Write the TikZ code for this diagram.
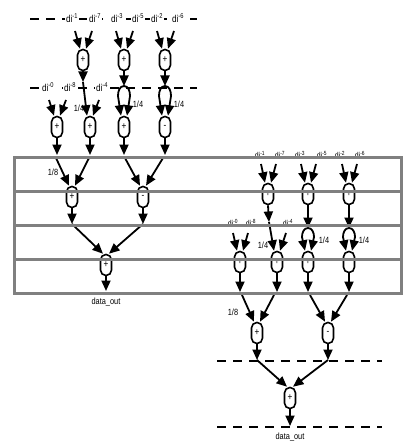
\documentclass[tikz,border=0pt]{standalone}
\usepackage{fontspec}
\newfontfamily\narrow[FakeStretch=0.82]{Liberation Sans}
\usetikzlibrary{arrows.meta}
\begin{document}
\begin{tikzpicture}[x=1pt,y=-1pt,
 adder/.style={draw, line width=1.6pt, rounded corners=5.4pt, minimum width=11pt, minimum height=21pt, inner sep=0pt, fill=white, font=\narrow\fontsize{10}{10}\selectfont},
 arr/.style={line width=1.8pt, -{Triangle[length=10.5pt,width=9pt]}},
 dline/.style={line width=1.8pt, dash pattern=on 9pt off 7pt},
 lab/.style={font=\narrow\fontsize{10}{10}\selectfont, inner sep=0.6pt, fill=white},
 slab/.style={font=\narrow\fontsize{8.5}{8.5}\selectfont, inner sep=0.5pt},
 flab/.style={font=\narrow\fontsize{9}{9}\selectfont, inner sep=0.5pt},
 grayline/.style={draw=gray, line width=3pt}]
\useasboundingbox (0,0) rectangle (403,441);
% ---------------- top-left pipeline ----------------
\draw[dline] (30,19) -- (197,19);
\node[lab] (t1) at (72,18) {di\textsuperscript{-1}};
\node[lab] (t7) at (95,18) {di\textsuperscript{-7}};
\node[lab] (t3) at (117,18) {di\textsuperscript{-3}};
\node[lab] (t5) at (138,18) {di\textsuperscript{-5}};
\node[lab] (t2) at (157,18) {di\textsuperscript{-2}};
\node[lab] (t6) at (178,18) {di\textsuperscript{-6}};
\node[adder] (A1) at (83,60) {+};
\node[adder] (A2) at (124,60) {+};
\node[adder] (A3) at (165,60) {+};
\coordinate (a1l) at (75,31); \coordinate (a1r) at (92,31);
\coordinate (a2l) at (116,31); \coordinate (a2r) at (133,31);
\coordinate (a3l) at (157,31); \coordinate (a3r) at (174,31);
\draw[arr] (a1l) -- ([xshift=-3pt]A1.north);
\draw[arr] (a1r) -- ([xshift=3pt]A1.north);
\draw[arr] (a2l) -- ([xshift=-3pt]A2.north);
\draw[arr] (a2r) -- ([xshift=3pt]A2.north);
\draw[arr] (a3l) -- ([xshift=-3pt]A3.north);
\draw[arr] (a3r) -- ([xshift=3pt]A3.north);
\draw[dline] (30,88) -- (197,88);
\node[lab] (t0) at (48,87) {di\textsuperscript{-0}};
\node[lab] (t8) at (70,87) {di\textsuperscript{-8}};
\node[lab] (t4) at (102,87) {di\textsuperscript{-4}};
\node[adder] (B1) at (57,127) {+};
\node[adder] (B2) at (90,127) {+};
\node[adder] (B3) at (124,127) {+};
\node[adder] (B4) at (165,127) {-};
\coordinate (a1o) at (83,82);
\coordinate (J2) at (124,86);
\coordinate (J3) at (165,86);
\draw[arr] (A1.south) -- (a1o);
\draw[arr] (A2.south) -- (J2);
\draw[arr] (A3.south) -- (J3);
\draw[arr] (a1o) -- ([xshift=-3pt]B2.north);
\draw[arr] (J2) to[out=180,in=90] (118,96) -- ([xshift=-3pt]B3.north);
\draw[arr] (J2) to[out=0,in=90] (130,96) -- ([xshift=3pt]B3.north);
\draw[arr] (J3) to[out=180,in=90] (159,96) -- ([xshift=-3pt]B4.north);
\draw[arr] (J3) to[out=0,in=90] (171,96) -- ([xshift=3pt]B4.north);
\coordinate (b1l) at (49,100); \coordinate (b1r) at (66,100);
\coordinate (b2r) at (99,100);
\draw[arr] (b1l) -- ([xshift=-3pt]B1.north);
\draw[arr] (b1r) -- ([xshift=3pt]B1.north);
\draw[arr] (b2r) -- ([xshift=3pt]B2.north);
\node[flab] (q1) at (79,108) {1/4};
\node[flab] (q2) at (138,104) {1/4};
\node[flab] (q3) at (179,104) {1/4};
\coordinate (b1o) at (57,155); \coordinate (b2o) at (90,155);
\coordinate (b3o) at (124,155); \coordinate (b4o) at (165,155);
\draw[arr] (B1.south) -- (b1o);
\draw[arr] (B2.south) -- (b2o);
\draw[arr] (B3.south) -- (b3o);
\draw[arr] (B4.south) -- (b4o);
% ---------------- box, left ----------------
\node[adder] (C1) at (72,197) {+};
\node[adder] (C2) at (143,197) {-};
\coordinate (c1l) at (56,158); \coordinate (c1r) at (89,158);
\coordinate (c2l) at (125,158); \coordinate (c2r) at (163,158);
\draw[arr] (c1l) -- ([xshift=-3pt]C1.north);
\draw[arr] (c1r) -- ([xshift=3pt]C1.north);
\draw[arr] (c2l) -- ([xshift=-3pt]C2.north);
\draw[arr] (c2r) -- ([xshift=3pt]C2.north);
\node[flab] (e1) at (53,172) {1/8};
\coordinate (c1o) at (72,224); \coordinate (c2o) at (143,224);
\draw[arr] (C1.south) -- (c1o);
\draw[arr] (C2.south) -- (c2o);
\node[adder] (D) at (106,265) {+};
\draw[arr] (c1o) -- ([xshift=-3pt]D.north);
\draw[arr] (c2o) -- ([xshift=3pt]D.north);
\coordinate (do) at (106,291);
\draw[arr] (D.south) -- (do);
\node[flab] (out1) at (106,302) {data\_out};
% ---------------- box, right ----------------
\node[slab] (u1) at (260,155) {di\textsuperscript{-1}};
\node[slab] (u7) at (280,155) {di\textsuperscript{-7}};
\node[slab] (u3) at (300,155) {di\textsuperscript{-3}};
\node[slab] (u5) at (322,155) {di\textsuperscript{-5}};
\node[slab] (u2) at (340,155) {di\textsuperscript{-2}};
\node[slab] (u6) at (360,155) {di\textsuperscript{-6}};
\node[adder] (E1) at (268,194) {+};
\node[adder] (E2) at (308,194) {+};
\node[adder] (E3) at (349,194) {+};
\coordinate (e1l) at (261,164); \coordinate (e1r) at (276,164);
\coordinate (e2l) at (301,164); \coordinate (e2r) at (316,164);
\coordinate (e3l) at (342,164); \coordinate (e3r) at (357,164);
\draw[arr] (e1l) -- ([xshift=-3pt]E1.north);
\draw[arr] (e1r) -- ([xshift=3pt]E1.north);
\draw[arr] (e2l) -- ([xshift=-3pt]E2.north);
\draw[arr] (e2r) -- ([xshift=3pt]E2.north);
\draw[arr] (e3l) -- ([xshift=-3pt]E3.north);
\draw[arr] (e3r) -- ([xshift=3pt]E3.north);
\node[slab] (v0) at (233,223) {di\textsuperscript{-0}};
\node[slab] (v8) at (251,223) {di\textsuperscript{-8}};
\node[slab] (v4) at (288,223) {di\textsuperscript{-4}};
\node[adder] (F1) at (240,262) {+};
\node[adder] (F2) at (277,262) {+};
\node[adder] (F3) at (308,262) {+};
\node[adder] (F4) at (349,262) {-};
\coordinate (e1o) at (269,222);
\coordinate (J5) at (308,228);
\coordinate (J6) at (349,228);
\draw[arr] (E1.south) -- (e1o);
\draw[arr] (E2.south) -- (J5);
\draw[arr] (E3.south) -- (J6);
\draw[arr] (e1o) -- ([xshift=-3pt]F2.north);
\draw[arr] (J5) to[out=180,in=90] (302,237) -- ([xshift=-3pt]F3.north);
\draw[arr] (J5) to[out=0,in=90] (314,237) -- ([xshift=3pt]F3.north);
\draw[arr] (J6) to[out=180,in=90] (343,237) -- ([xshift=-3pt]F4.north);
\draw[arr] (J6) to[out=0,in=90] (355,237) -- ([xshift=3pt]F4.north);
\coordinate (f1l) at (233,233); \coordinate (f1r) at (248,233);
\coordinate (f2r) at (286,233);
\draw[arr] (f1l) -- ([xshift=-3pt]F1.north);
\draw[arr] (f1r) -- ([xshift=3pt]F1.north);
\draw[arr] (f2r) -- ([xshift=3pt]F2.north);
\node[flab] (r1) at (263,245) {1/4};
\node[flab] (r2) at (324,240) {1/4};
\node[flab] (r3) at (364,240) {1/4};
\coordinate (f1o) at (240,292); \coordinate (f2o) at (277,292);
\coordinate (f3o) at (308,292); \coordinate (f4o) at (349,292);
\draw[arr] (F1.south) -- (f1o);
\draw[arr] (F2.south) -- (f2o);
\draw[arr] (F3.south) -- (f3o);
\draw[arr] (F4.south) -- (f4o);
% ---------------- below box ----------------
\node[adder] (G1) at (257,333) {+};
\node[adder] (G2) at (328,333) {-};
\coordinate (g1l) at (242,295); \coordinate (g1r) at (274,295);
\coordinate (g2l) at (310,295); \coordinate (g2r) at (347,295);
\draw[arr] (g1l) -- ([xshift=-3pt]G1.north);
\draw[arr] (g1r) -- ([xshift=3pt]G1.north);
\draw[arr] (g2l) -- ([xshift=-3pt]G2.north);
\draw[arr] (g2r) -- ([xshift=3pt]G2.north);
\node[flab] (e2) at (233,312) {1/8};
\draw[dline] (217,361) -- (382,361);
\coordinate (g1o) at (257,360); \coordinate (g2o) at (328,360);
\draw[arr] (G1.south) -- (g1o);
\draw[arr] (G2.south) -- (g2o);
\node[adder] (H) at (290,398) {+};
\draw[arr] (g1o) -- ([xshift=-3pt]H.north);
\draw[arr] (g2o) -- ([xshift=3pt]H.north);
\draw[dline] (217,427) -- (382,427);
\coordinate (ho) at (290,426);
\draw[arr] (H.south) -- (ho);
\node[flab] (out2) at (290,437) {data\_out};
% ---------------- gray register box (on top) ----------------
\draw[grayline] (14,157) rectangle (401,293);
\draw[grayline] (14,191) -- (401,191);
\draw[grayline] (14,225) -- (401,225);
\draw[grayline] (14,259) -- (401,259);
\end{tikzpicture}
\end{document}
